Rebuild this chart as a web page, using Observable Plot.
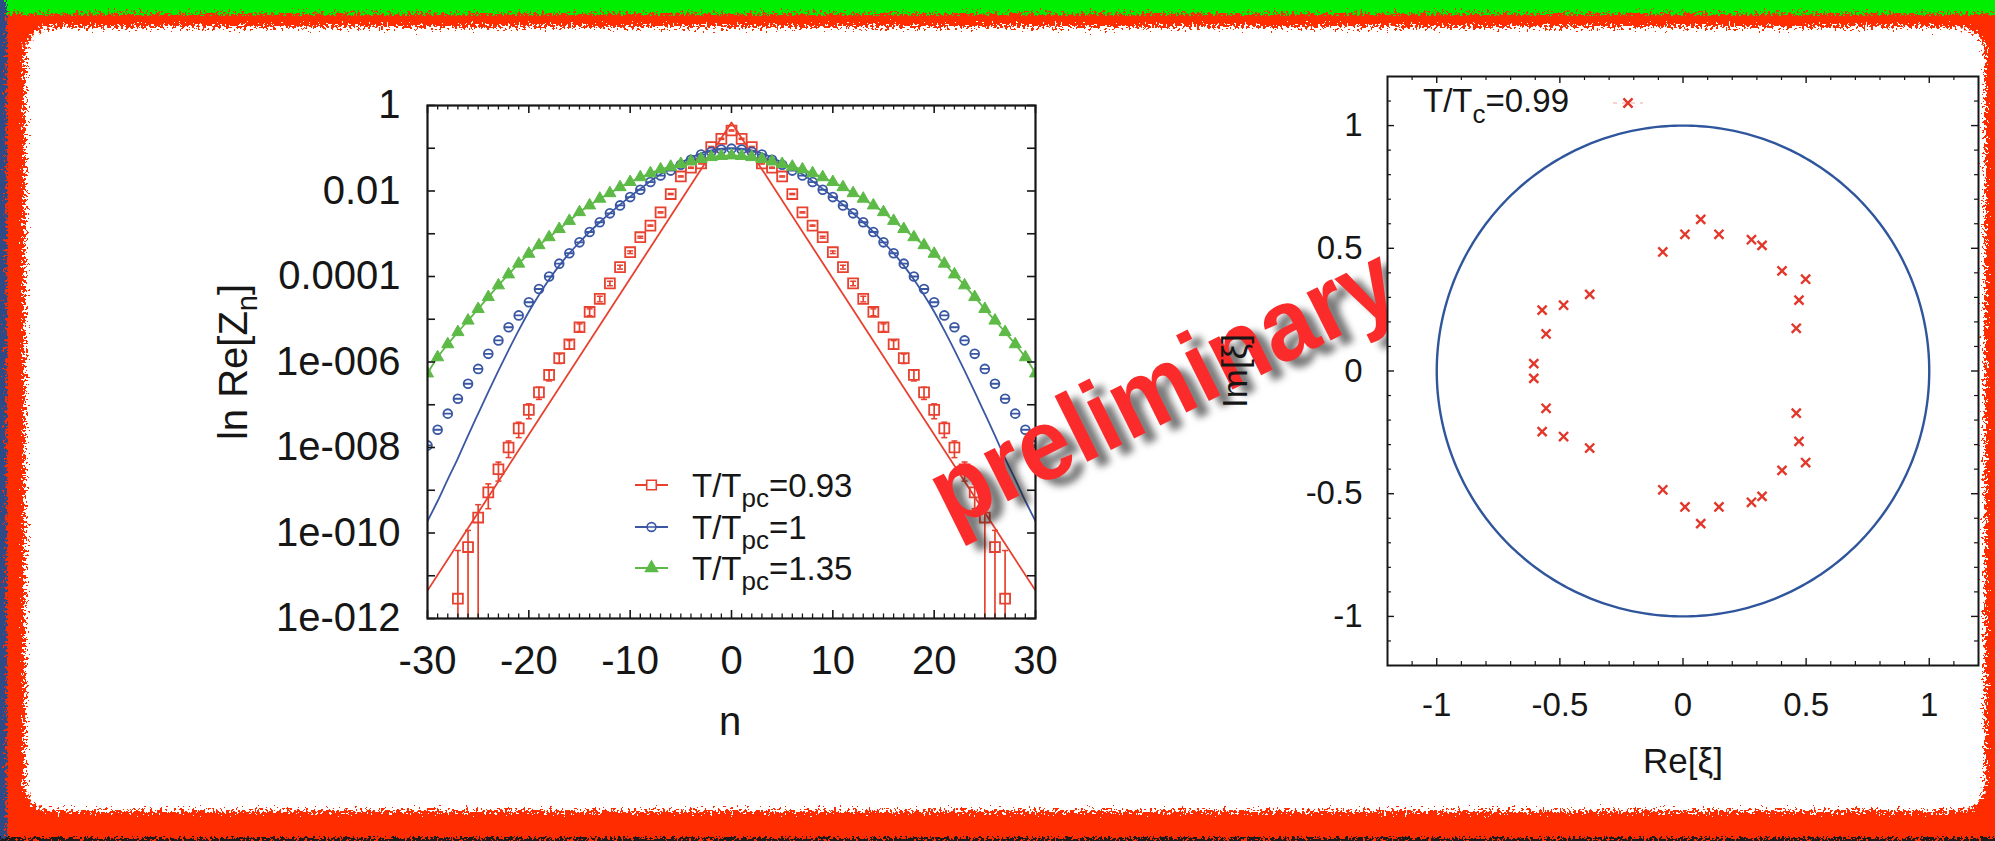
<!DOCTYPE html>
<html>
<head>
<meta charset="utf-8">
<script src="https://cdn.jsdelivr.net/npm/d3@7"></script>
<script src="https://cdn.jsdelivr.net/npm/@observablehq/plot@0.6"></script>
<style>
  html, body { margin: 0; padding: 0; background: #fff; }
  #page { position: relative; width: 1995px; height: 841px; overflow: hidden;
          font-family: "Liberation Sans", Arial, Helvetica, sans-serif; }
  #page > * { position: absolute; }
  #deco  { left: 0; top: 0; z-index: 0; }
  #left  { left: 0; top: 0; z-index: 1; }
  #stamp { left: 1162px; top: 386px; width: 0; height: 0; z-index: 2; }
  #stamp span { position: absolute; left: 0; top: 0; line-height: 1;
                transform: translate(-50%, -50%) rotate(-26.5deg) scaleY(1.08);
                font-weight: bold; font-size: 94px; color: #fc2b2b; white-space: nowrap;
                text-shadow: 8px 10px 7px rgba(30, 30, 30, 0.6); }
  #right { left: 1150px; top: 0; z-index: 3; }
</style>
</head>
<body>
<div id="page">
  <svg id="deco" width="1995" height="841">
    <defs>
      <filter id="torn" x="-3%" y="-6%" width="106%" height="112%">
        <feTurbulence type="fractalNoise" baseFrequency="0.38" numOctaves="3" seed="7" result="noise"/>
        <feDisplacementMap in="SourceGraphic" in2="noise" scale="20" xChannelSelector="R" yChannelSelector="G"/>
      </filter>
    </defs>
    <rect width="1995" height="841" fill="#ff2c00"/>
    <rect x="-10" y="-10" width="2015" height="24" fill="#00ee00" filter="url(#torn)"/>
    <rect x="-10" y="-10" width="17" height="861" fill="#2d4c88" filter="url(#torn)"/>
    <rect x="-10" y="838" width="2015" height="20" fill="#1e1e1e" filter="url(#torn)"/>
    <rect x="25" y="27" width="1960" height="784" rx="26" fill="#ffffff" filter="url(#torn)"/>
  </svg>
  <div id="left"></div>
  <div id="stamp"><span>preliminary</span></div>
  <div id="right"></div>
</div>
<script>
const FONT = '"Liberation Sans", Arial, Helvetica, sans-serif';
const RED = "#e8412f", BLUE = "#3a57a3", GREEN = "#5dba47", INK = "#161616";

// ---- Left panel: Re Z_n against n (Re Z_n = Re Z_-n, so values are listed for n = 0, 1, 2, ...)
const redZ   = [0.26, 0.166, 0.107, 0.044, 0.035, 0.0219, 0.0085, 0.00316, 0.00155, 8.3e-4,
                3.7e-4, 1.66e-4, 6.9e-5, 3.0e-5, 1.48e-5, 6.5e-6, 2.6e-6, 1.23e-6, 5.0e-7, 1.95e-7,
                7.6e-8, 2.8e-8, 1.0e-8, 3.1e-9, 8.9e-10, 2.3e-10, 4.7e-11, 2.9e-12];
const redErr = [0.0078, 0.005, 0.0032, 0.0013, 0.0011, 6.6e-4, 2.6e-4, 1.0e-4, 4.7e-5, 4.2e-5,
                2.6e-5, 1.7e-5, 8.3e-6, 4.5e-6, 2.7e-6, 1.3e-6, 5.7e-7, 3.1e-7, 1.4e-7, 6.2e-8,
                2.9e-8, 1.1e-8, 4.2e-9, 1.46e-9, 5.2e-10, 2.3e-10, 6.8e-11, 3.6e-11];
const blueZ  = [0.098, 0.093, 0.083, 0.071, 0.054, 0.041, 0.030, 0.023, 0.0162, 0.0107,
                0.0072, 0.0046, 0.0030, 0.00186, 0.0011, 6.3e-4, 3.5e-4, 2.0e-4, 1.0e-4, 5.1e-5,
                2.5e-5, 1.23e-5, 6.5e-6, 3.2e-6, 1.55e-6, 6.9e-7, 3.1e-7, 1.38e-7, 6.2e-8, 2.6e-8, 1.12e-8];
const greenZ = [0.068, 0.066, 0.062, 0.056, 0.049, 0.043, 0.037, 0.032, 0.026, 0.021,
                0.0162, 0.0123, 0.0089, 0.0066, 0.0046, 0.0032, 0.0020, 0.00129, 8.3e-4, 5.4e-4,
                3.4e-4, 2.0e-4, 1.12e-4, 6.2e-5, 3.3e-5, 1.74e-5, 9.3e-6, 5.0e-6, 2.6e-6, 1.29e-6, 5.4e-7];
// fitted curves
const blueFitZ = [0.100, 0.0977, 0.0891, 0.0759, 0.0603, 0.0457, 0.0339, 0.0245, 0.0170, 0.0112,
                  0.0074, 0.0048, 0.0030, 0.00186, 0.0011, 6.3e-4, 3.5e-4, 1.8e-4, 8.5e-5, 3.7e-5,
                  1.5e-5, 5.5e-6, 1.9e-6, 6.3e-7, 2.0e-7, 6.2e-8, 1.9e-8, 5.6e-9, 1.8e-9, 5.6e-10, 1.9e-10];
const redFitN = [-30, 0, 30];
const redFitZ = [4.5e-12, 0.4, 4.5e-12];

const leftXTicks = [-30, -20, -10, 0, 10, 20, 30];
const leftYTicks = [1e-12, 1e-10, 1e-8, 1e-6, 1e-4, 1e-2, 1];
const leftYLabels = ["1e-012", "1e-010", "1e-008", "1e-006", "0.0001", "0.01", "1"];
const legendLeft = [
  {value: "0.93", color: RED, symbol: "square"},
  {value: "1", color: BLUE, symbol: "circlebar"},
  {value: "1.35", color: GREEN, symbol: "triangle"}
];

// ---- Right panel: zeros in the complex xi plane
const zerosRe = [-0.606, -0.556, -0.572, -0.485, -0.379, -0.082, 0.008, 0.072, 0.146, 0.278, 0.321, 0.402, 0.498, 0.471, 0.460,
                 -0.606, -0.556, -0.572, -0.485, -0.379, -0.082, 0.008, 0.072, 0.146, 0.278, 0.321, 0.402, 0.498, 0.471, 0.460];
const zerosIm = [0.030, 0.151, 0.248, 0.268, 0.312, 0.485, 0.557, 0.618, 0.557, 0.535, 0.512, 0.408, 0.374, 0.289, 0.174,
                 -0.030, -0.152, -0.247, -0.267, -0.314, -0.484, -0.554, -0.622, -0.554, -0.535, -0.511, -0.405, -0.373, -0.287, -0.172];
const rightTicks = [-1, -0.5, 0, 0.5, 1];
const legendRight = {value: "0.99"};

// ---- helpers
const evenSeries = (vals, errs) => {
  const out = [];
  vals.forEach((v, i) => {
    out.push({n: i, v, e: errs ? errs[i] : 0});
    if (i > 0) out.push({n: -i, v, e: errs ? errs[i] : 0});
  });
  return out.sort((a, b) => a.n - b.n);
};
const redPts = evenSeries(redZ, redErr);
const bluePts = evenSeries(blueZ);
const greenPts = evenSeries(greenZ);
const blueFit = evenSeries(blueFitZ);
const redFit = redFitN.map((n, i) => ({n, v: redFitZ[i]}));
const zeros = zerosRe.map((re, i) => ({re, im: zerosIm[i]}));
// reference unit circle |xi| = 1
const unitCircle = d3.range(0, 361).map(a => ({re: Math.cos(a * Math.PI / 180), im: Math.sin(a * Math.PI / 180)}));

const circleBar = {
  draw(ctx, size) {
    const r = Math.sqrt(size / Math.PI);
    ctx.moveTo(r, 0); ctx.arc(0, 0, r, 0, 2 * Math.PI);
    ctx.moveTo(-r, 0); ctx.lineTo(r, 0);
  }
};
const hbar = {
  draw(ctx, size) {
    const r = Math.sqrt(size / Math.PI);
    ctx.moveTo(-r, 0); ctx.lineTo(r, 0);
  }
};
const symbolFor = {square: d3.symbolSquare, circlebar: circleBar, triangle: d3.symbolTriangle};

// text with a subscript part: parts = [[text, isSub], ...]
function richText(parent, {x, y, size, subSize, shift, parts, anchor = "start", rotate = 0}) {
  const t = parent.append("text")
    .attr("transform", `translate(${x},${y}) rotate(${rotate})`)
    .attr("text-anchor", anchor)
    .attr("font-family", FONT)
    .attr("font-size", size)
    .attr("fill", INK);
  let down = false;
  for (const [str, sub] of parts) {
    const ts = t.append("tspan").text(str);
    if (sub && !down) { ts.attr("dy", shift).attr("font-size", subSize); down = true; }
    else if (!sub && down) { ts.attr("dy", -shift).attr("font-size", size); down = false; }
  }
  return t;
}

// ---- Left plot
const L = {width: 1100, height: 841, ml: 427, mr: 65, mt: 105, mb: 223};
const LW = L.width - L.ml - L.mr, LH = L.height - L.mt - L.mb;
const leftMinorX = d3.range(-29, 30).filter(d => d % 10 !== 0);
const decades = d3.range(-12, 1).map(k => Math.pow(10, k));

const leftPlot = Plot.plot({
  width: L.width, height: L.height,
  marginLeft: L.ml, marginRight: L.mr, marginTop: L.mt, marginBottom: L.mb,
  x: {domain: [-30, 30]},
  y: {type: "log", domain: [1e-12, 1]},
  style: {background: "transparent", fontFamily: FONT, fontSize: "40px", color: INK, overflow: "visible"},
  marks: [
    Plot.line(redFit, {x: "n", y: "v", stroke: RED, strokeWidth: 1.8, clip: true}),
    Plot.line(blueFit, {x: "n", y: "v", stroke: BLUE, strokeWidth: 1.8, curve: "catmull-rom", clip: true}),
    Plot.line(greenPts, {x: "n", y: "v", stroke: GREEN, strokeWidth: 1.8, curve: "catmull-rom", clip: true}),
    Plot.ruleX(redPts, {x: "n", y1: d => Math.max(d.v - d.e, 1e-14), y2: d => d.v + d.e, stroke: RED, strokeWidth: 1.7, clip: true}),
    Plot.dot(redPts, {x: "n", y: d => d.v + d.e, symbol: hbar, r: 3, stroke: RED, strokeWidth: 1.5, clip: true}),
    Plot.dot(redPts.filter(d => d.v - d.e > 1e-12), {x: "n", y: d => d.v - d.e, symbol: hbar, r: 3, stroke: RED, strokeWidth: 1.5, clip: true}),
    Plot.dot(redPts, {x: "n", y: "v", symbol: "square", r: 5.6, stroke: RED, fill: "none", strokeWidth: 1.8, clip: true}),
    Plot.dot(bluePts, {x: "n", y: "v", symbol: circleBar, r: 4.4, stroke: BLUE, fill: "none", strokeWidth: 1.8, clip: true}),
    Plot.dot(greenPts, {x: "n", y: "v", symbol: "triangle", r: 4.5, fill: GREEN, stroke: GREEN, strokeWidth: 1, clip: true}),
    // inward ticks on all four sides
    Plot.ruleX(leftXTicks, {insetTop: LH - 8, stroke: INK, strokeWidth: 1.6}),
    Plot.ruleX(leftXTicks, {insetBottom: LH - 8, stroke: INK, strokeWidth: 1.6}),
    Plot.ruleX(leftMinorX, {insetTop: LH - 4.5, stroke: INK, strokeWidth: 1.3}),
    Plot.ruleX(leftMinorX, {insetBottom: LH - 4.5, stroke: INK, strokeWidth: 1.3}),
    Plot.ruleY(decades, {insetRight: LW - 8, stroke: INK, strokeWidth: 1.6}),
    Plot.ruleY(decades, {insetLeft: LW - 8, stroke: INK, strokeWidth: 1.6}),
    Plot.frame({stroke: INK, strokeWidth: 2.2}),
    Plot.axisX({ticks: leftXTicks, tickSize: 0, tickPadding: 27, tickFormat: d => String(d), fontSize: 40, label: null}),
    Plot.axisY({ticks: leftYTicks, tickSize: 0, tickPadding: 27, fontSize: 40, label: null,
                tickFormat: d => leftYLabels[leftYTicks.indexOf(d)]})
  ]
});
document.getElementById("left").appendChild(leftPlot);
{
  const svg = d3.select(leftPlot);
  richText(svg, {x: 247, y: 362, size: 40, subSize: 29, shift: 10, rotate: -90, anchor: "middle",
                 parts: [["ln Re[Z", false], ["n", true], ["]", false]]});
  svg.append("text").attr("x", 730).attr("y", 735).attr("text-anchor", "middle")
     .attr("font-family", FONT).attr("font-size", 40).attr("fill", INK).text("n");
  const rows = [485, 527, 568];
  legendLeft.forEach((item, i) => {
    const y = rows[i];
    svg.append("line").attr("x1", 635).attr("x2", 668).attr("y1", y).attr("y2", y)
       .attr("stroke", item.color).attr("stroke-width", 1.8);
    const filled = item.symbol === "triangle";
    const size = item.symbol === "square" ? Math.PI * 5.4 * 5.4 : Math.PI * 4.4 * 4.4;
    svg.append("path").attr("transform", `translate(651.5,${y})`)
       .attr("d", d3.symbol(symbolFor[item.symbol], size)())
       .attr("fill", filled ? item.color : "white").attr("stroke", item.color).attr("stroke-width", 1.6);
    richText(svg, {x: 692, y: y + 12, size: 33, subSize: 26, shift: 10,
                   parts: [["T/T", false], ["pc", true], ["=" + item.value, false]]});
  });
}

// ---- Right plot
const R = {width: 845, height: 841, ml: 237, mr: 17, mt: 76, mb: 176};
const RW = R.width - R.ml - R.mr, RH = R.height - R.mt - R.mb;
const rightMinor = d3.range(-11, 12).filter(k => k % 5 !== 0).map(k => k / 10);

const rightPlot = Plot.plot({
  width: R.width, height: R.height,
  marginLeft: R.ml, marginRight: R.mr, marginTop: R.mt, marginBottom: R.mb,
  x: {domain: [-1.2, 1.2]},
  y: {domain: [-1.2, 1.2]},
  style: {background: "transparent", fontFamily: FONT, fontSize: "33px", color: INK, overflow: "visible"},
  marks: [
    Plot.frame({fill: "white", stroke: "none"}),
    Plot.line(unitCircle, {x: "re", y: "im", stroke: "#2f569c", strokeWidth: 2.4}),
    Plot.dot(zeros, {x: "re", y: "im", symbol: "times", r: 4.2, stroke: "#e2382c", strokeWidth: 2.4}),
    Plot.ruleX(rightTicks, {insetTop: RH - 7, stroke: INK, strokeWidth: 1.4}),
    Plot.ruleX(rightTicks, {insetBottom: RH - 7, stroke: INK, strokeWidth: 1.4}),
    Plot.ruleX(rightMinor, {insetTop: RH - 4, stroke: INK, strokeWidth: 1.2}),
    Plot.ruleX(rightMinor, {insetBottom: RH - 4, stroke: INK, strokeWidth: 1.2}),
    Plot.ruleY(rightTicks, {insetRight: RW - 7, stroke: INK, strokeWidth: 1.4}),
    Plot.ruleY(rightTicks, {insetLeft: RW - 7, stroke: INK, strokeWidth: 1.4}),
    Plot.ruleY(rightMinor, {insetRight: RW - 4, stroke: INK, strokeWidth: 1.2}),
    Plot.ruleY(rightMinor, {insetLeft: RW - 4, stroke: INK, strokeWidth: 1.2}),
    Plot.frame({stroke: INK, strokeWidth: 2}),
    Plot.axisX({ticks: rightTicks, tickSize: 0, tickPadding: 27, tickFormat: d => String(d), fontSize: 33, label: null}),
    Plot.axisY({ticks: rightTicks, tickSize: 0, tickPadding: 25, tickFormat: d => String(d), fontSize: 33, label: null})
  ]
});
document.getElementById("right").appendChild(rightPlot);
{
  const svg = d3.select(rightPlot);
  svg.append("text").attr("x", 533).attr("y", 773).attr("text-anchor", "middle")
     .attr("font-family", FONT).attr("font-size", 35).attr("fill", INK).text("Re[ξ]");
  svg.append("text").attr("transform", "translate(97,371) rotate(-90)").attr("text-anchor", "middle")
     .attr("font-family", FONT).attr("font-size", 35).attr("fill", INK).text("Im[ξ]");
  richText(svg, {x: 273, y: 112, size: 33, subSize: 26, shift: 11,
                 parts: [["T/T", false], ["c", true], ["=" + legendRight.value, false]]});
  svg.append("line").attr("x1", 463).attr("x2", 493).attr("y1", 103).attr("y2", 103)
     .attr("stroke", "#f3a69d").attr("stroke-width", 1.2).attr("stroke-dasharray", "4 5");
  svg.append("path").attr("transform", "translate(478,103)")
     .attr("d", d3.symbol(d3.symbolTimes, Math.PI * 4.2 * 4.2)())
     .attr("fill", "none").attr("stroke", "#e2382c").attr("stroke-width", 2.4);
}
</script>
</body>
</html>
